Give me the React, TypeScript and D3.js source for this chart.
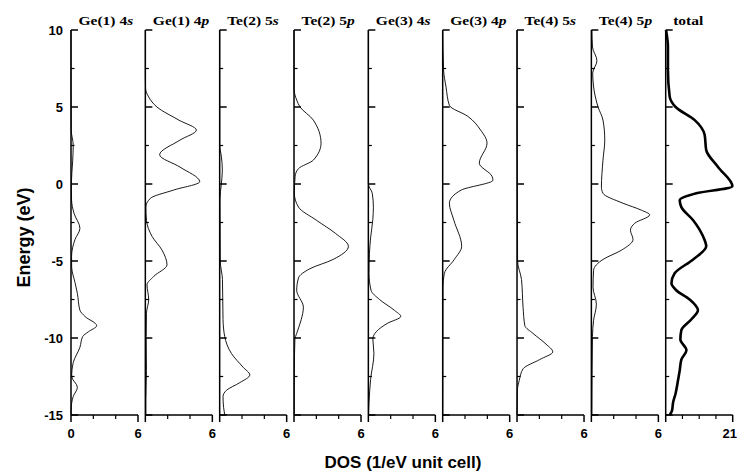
import React from "react";
import * as d3 from "d3";

// panel titles: [prefix, italic orbital letter]
const titles: [string, string][] = [
  ["Ge(1) 4", "s"],
  ["Ge(1) 4", "p"],
  ["Te(2) 5", "s"],
  ["Te(2) 5", "p"],
  ["Ge(3) 4", "s"],
  ["Ge(3) 4", "p"],
  ["Te(4) 5", "s"],
  ["Te(4) 5", "p"],
  ["total", ""],
];

// x-axis maxima per panel
const dosMax = [6, 6, 6, 6, 6, 6, 6, 6, 21];
const energyTicks = [10, 5, 0, -5, -10, -15];

// [energy (eV), DOS]
const ge1s: [number, number][] = [
  [10, 0], [6, 0], [3.5, 0.02], [2.5, 0.2], [1.5, 0.15], [0, 0.03], [-1.04, 0.05],
  [-1.9, 0.27], [-2.88, 0.8], [-3.6, 0.36], [-4.7, 0.05], [-5.4, 0.06], [-6.4, 0.36],
  [-7.1, 0.57], [-8.2, 0.8], [-8.6, 1.25], [-9.2, 2.3], [-9.6, 1.55], [-9.9, 1.05],
  [-10.6, 0.8], [-11.6, 0.2], [-12.5, 0.06], [-13.2, 0.57], [-13.8, 0.2], [-14.5, 0.02], [-15, 0],
];
const ge1p: [number, number][] = [
  [10, 0], [7, 0], [6.2, 0.02], [5.65, 0.3], [5, 1.04], [4.15, 3.0], [3.5, 4.57],
  [2.85, 3.1], [1.9, 1.28], [1.1, 3.1], [0.15, 4.87], [-0.4, 2.5], [-0.93, 0.45],
  [-1.5, 0.05], [-2.35, 0.1], [-3.4, 0.6], [-4.3, 1.5], [-5.25, 1.94], [-6, 0.75],
  [-6.55, 0.15], [-7.5, 0.3], [-8.4, 0.1], [-9.9, 0.08], [-12.1, 0.1], [-14, 0.05], [-15, 0.05],
];
const te2s: [number, number][] = [
  [10, 0], [2.5, 0], [1.8, 0.15], [0.9, 0.24], [0, 0.15], [-1, 0.02], [-5, 0.05],
  [-6.2, 0.25], [-8.8, 0.3], [-9.9, 0.45], [-11, 1.05], [-11.9, 2.1], [-12.4, 2.7],
  [-12.9, 1.8], [-13.4, 0.6], [-13.8, 0.3], [-14.5, 0.35], [-15, 0.45],
];
const te2p: [number, number][] = [
  [10, 0], [6.2, 0], [5.45, 0.24], [5, 0.54], [4.15, 1.73], [2.65, 2.42], [1.55, 1.73],
  [1, 0.4], [0.5, 0.1], [-0.6, 0.03], [-1.5, 0.4], [-2.35, 2.0], [-3.2, 3.7],
  [-4.05, 4.87], [-4.9, 3.5], [-5.5, 1.43], [-6.1, 0.4], [-6.9, 0.24], [-8, 0.84],
  [-8.8, 0.65], [-9.7, 0.24], [-10.1, 0.08], [-12, 0.03], [-15, 0.02],
];
const ge3s: [number, number][] = [
  [10, 0], [0, 0], [-0.6, 0.35], [-1.5, 0.45], [-2.3, 0.4], [-3.5, 0.2], [-4.5, 0.1],
  [-5.8, 0.06], [-6.9, 0.24], [-7.5, 1.0], [-8.2, 2.33], [-8.6, 2.9], [-9.05, 1.7],
  [-9.6, 0.7], [-10.04, 0.4], [-11, 0.5], [-12.7, 0.2], [-14.2, 0.06], [-15, 0.02],
];
const ge3p: [number, number][] = [
  [10, 0], [7.4, 0.08], [6.3, 0.3], [5.1, 0.6], [4.4, 2.24], [3.5, 3.4], [2.65, 3.97],
  [1.35, 3.28], [0.5, 4.42], [0.25, 4.5], [-0.4, 1.64], [-1.25, 0.6], [-2.35, 1.0],
  [-4.05, 1.7], [-4.9, 1.04], [-5.8, 0.15], [-6.7, 0.02], [-15, 0],
];
const te4s: [number, number][] = [
  [10, 0], [-5, 0.05], [-6.2, 0.4], [-8, 0.54], [-9.2, 0.7], [-9.7, 1.43], [-10.4, 2.6],
  [-10.9, 3.2], [-11.4, 2.03], [-12, 0.54], [-12.75, 0.2], [-13.4, 0.03], [-15, 0],
];
const te4p: [number, number][] = [
  [10, 0.05], [8.9, 0.1], [8, 0.5], [7.2, 0.12], [6.3, 0.2], [5, 0.6], [4.15, 1.04],
  [2.85, 1.2], [1.55, 1.04], [-0.2, 0.9], [-0.6, 1.04], [-1.25, 2.84], [-1.7, 4.48],
  [-2.0, 5.22], [-2.55, 3.88], [-3, 3.5], [-3.6, 3.73], [-4.3, 2.69], [-4.9, 1.04],
  [-5.6, 0.2], [-6.7, 0.15], [-7.8, 0.45], [-8.85, 0.2], [-9.9, 0.1], [-15, 0.05],
];
const total: [number, number][] = [
  [10, 0.1], [8.9, 0.7], [7.4, 0.7], [5.67, 1.25], [5, 3.1], [4.15, 9.1], [3.2, 12.2],
  [2.2, 12.7], [1.1, 16.4], [-0.15, 20.9], [-0.6, 9.6], [-1.05, 4.4], [-1.5, 4.9],
  [-2.35, 8.6], [-3.4, 11.7], [-4.05, 12.7], [-4.9, 8.6], [-5.8, 2.8], [-6.45, 1.8],
  [-6.9, 3.3], [-7.5, 7.5], [-8.2, 10.1], [-8.8, 8.0], [-9.5, 4.9], [-10.1, 4.6],
  [-10.8, 6.5], [-11.4, 4.9], [-12.1, 4.4], [-12.7, 3.9], [-13.6, 3.1], [-14.2, 2.3],
  [-14.7, 2.0], [-15, 1.25],
];

const series = [ge1s, ge1p, te2s, te2p, ge3s, ge3p, te4s, te4p, total];

const width = 738;
const height = 471;
const panelW = 67;
const sans = "'Liberation Sans', Arial, sans-serif";
const serif = "'Liberation Serif', 'Times New Roman', serif";

export default function App() {
  const y = d3.scaleLinear().domain([10, -15]).range([30, 415]);
  const panelX = d3.scaleLinear().domain([0, 8]).range([71, 665.7]);
  const minorE = d3.range(10, -15.1, -2.5).filter((e) => e % 5 !== 0);

  return (
    <svg width={width} height={height} style={{ position: "absolute", left: 0, top: 0, background: "#fff" }}>
      {series.map((data, i) => {
        const x0 = panelX(i);
        const x = d3.scaleLinear().domain([0, dosMax[i]]).range([x0, x0 + panelW]);
        const line = d3
          .line<[number, number]>()
          .x((d) => x(d[1]))
          .y((d) => y(d[0]))
          .curve(d3.curveMonotoneY);
        const xMinor = i === 8 ? d3.range(1, 4).map((k) => (21 * k) / 4) : [2, 4];
        const last = i === 8;
        return (
          <g key={i}>
            {/* curve */}
            <path d={line(data) ?? ""} fill="none" stroke="#000" strokeWidth={last ? 2.6 : 0.9} />
            {/* axes */}
            <line x1={x0} x2={x0} y1={y(10)} y2={y(-15)} stroke="#000" strokeWidth={1.5} />
            <line x1={x0} x2={x(dosMax[i])} y1={y(-15)} y2={y(-15)} stroke="#000" strokeWidth={1.5} />
            {energyTicks.map((e) => (
              <line key={e} x1={x0} x2={x0 + 7} y1={y(e)} y2={y(e)} stroke="#000" strokeWidth={1.5} />
            ))}
            {minorE.map((e) => (
              <line key={e} x1={x0} x2={x0 + 3.5} y1={y(e)} y2={y(e)} stroke="#000" strokeWidth={1.2} />
            ))}
            {[0, dosMax[i]].map((v) => (
              <line key={v} x1={x(v)} x2={x(v)} y1={y(-15)} y2={y(-15) + 7} stroke="#000" strokeWidth={1.5} />
            ))}
            {xMinor.map((v) => (
              <line key={v} x1={x(v)} x2={x(v)} y1={y(-15)} y2={y(-15) + 4} stroke="#000" strokeWidth={1.2} />
            ))}
            {/* tick labels */}
            {i === 0 && (
              <text x={x(0)} y={438} textAnchor="middle" fontFamily={sans} fontWeight="bold" fontSize={13}>
                0
              </text>
            )}
            <text
              x={last ? width - 1 : x(dosMax[i])}
              y={438}
              textAnchor={last ? "end" : "middle"}
              fontFamily={sans}
              fontWeight="bold"
              fontSize={13}
            >
              {dosMax[i]}
            </text>
            {/* title */}
            <text
              transform={`translate(${x0 + 7.5},25) scale(1.15,1)`}
              fontFamily={serif}
              fontWeight="bold"
              fontSize={13.5}
            >
              {titles[i][0]}
              <tspan fontStyle="italic">{titles[i][1]}</tspan>
            </text>
          </g>
        );
      })}
      {energyTicks.map((e) => (
        <text
          key={e}
          x={63}
          y={y(e)}
          dy="0.36em"
          textAnchor="end"
          fontFamily={sans}
          fontWeight="bold"
          fontSize={13}
        >
          {e}
        </text>
      ))}
      <text
        transform={`translate(30,${(y(10) + y(-15)) / 2 + 15}) rotate(-90)`}
        textAnchor="middle"
        fontFamily={sans}
        fontWeight="bold"
        fontSize={18}
      >
        Energy (eV)
      </text>
      <text x={403} y={468} textAnchor="middle" fontFamily={sans} fontWeight="bold" fontSize={17}>
        DOS (1/eV unit cell)
      </text>
    </svg>
  );
}
